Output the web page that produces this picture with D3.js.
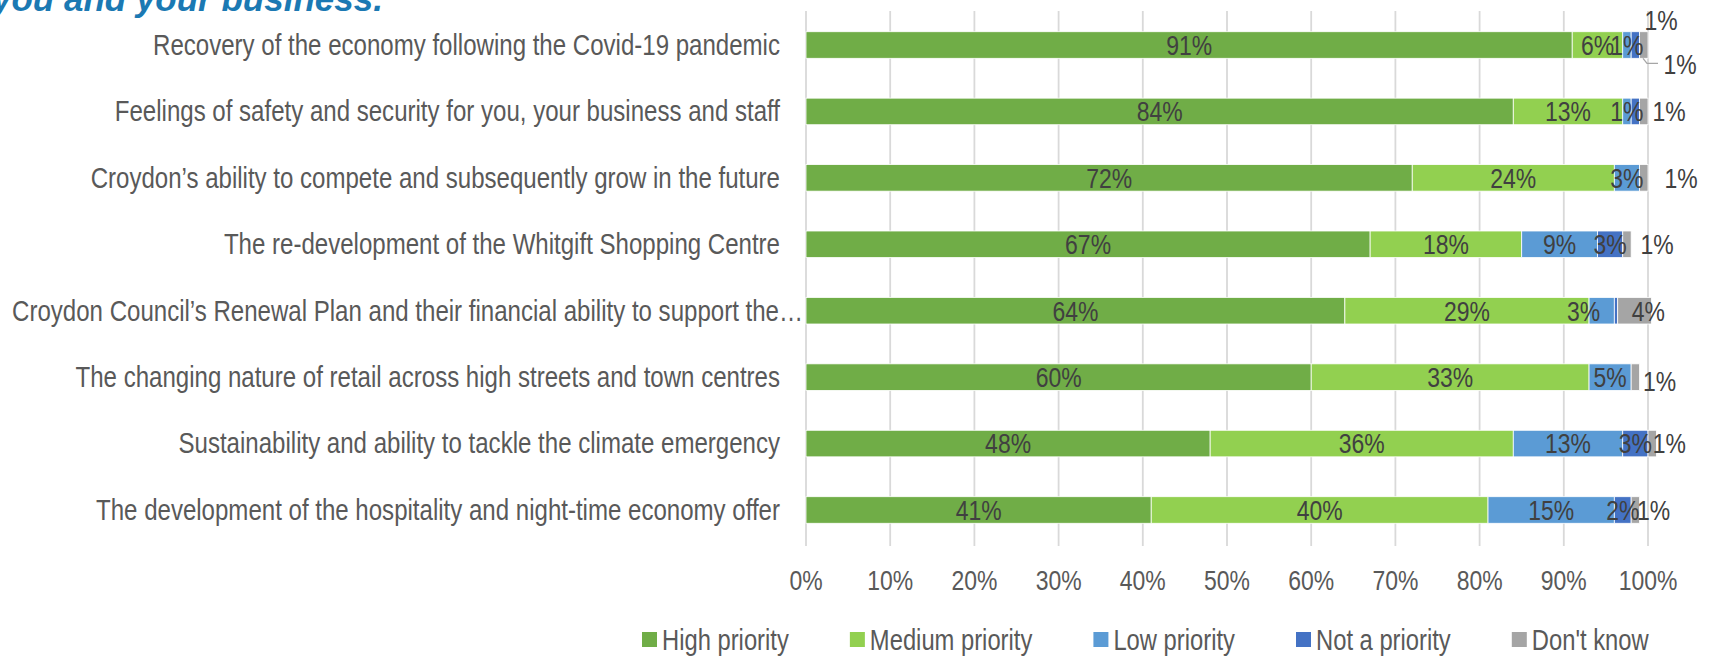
<!DOCTYPE html>
<html>
<head>
<meta charset="utf-8">
<script src="https://cdn.jsdelivr.net/npm/d3@7"></script>
<style>
  html, body { margin: 0; padding: 0; background: #fff; }
  svg { display: block; }
</style>
</head>
<body>
<svg id="chart" width="1713" height="657"></svg>
<script>
// Priority ratings for each issue, in percent of respondents
const categories = [
  "Recovery of the economy following the Covid-19 pandemic",
  "Feelings of safety and security for you, your business and staff",
  "Croydon\u2019s ability to compete and subsequently grow in the future",
  "The re-development of the Whitgift Shopping Centre",
  "Croydon Council\u2019s Renewal Plan and their financial ability to support the\u2026",
  "The changing nature of retail across high streets and town centres",
  "Sustainability and ability to tackle the climate emergency",
  "The development of the hospitality and night-time economy offer"
];
const seriesNames = ["High priority", "Medium priority", "Low priority", "Not a priority", "Don't know"];
const highPriority   = [91, 84, 72, 67, 64, 60, 48, 41];
const mediumPriority = [6, 13, 24, 18, 29, 33, 36, 40];
const lowPriority    = [1, 1, 3, 9, 3, 5, 13, 15];
const notAPriority   = [1, 1, 0, 3, 0.4, 0, 3, 2];
const dontKnow       = [1, 1, 1, 1, 4, 1, 1, 1];
const xTicks = [0, 10, 20, 30, 40, 50, 60, 70, 80, 90, 100];

const seriesValues = [highPriority, mediumPriority, lowPriority, notAPriority, dontKnow];
const colors = ["#70ad47", "#92d050", "#5b9bd5", "#4472c4", "#a5a5a5"];

const FONT = "'Liberation Sans', Arial, sans-serif";
const SQUEEZE = 0.82;   // condensed look for all chart text
const svg = d3.select("#chart");

// turn each text's x/y into a transform so it can be narrowed around its anchor
function narrow(sel, k = SQUEEZE) {
  sel.each(function () {
    const t = d3.select(this);
    const tx = +t.attr("x"), ty = +t.attr("y");
    t.attr("x", 0).attr("y", 0)
      .attr("transform", `translate(${tx},${ty}) scale(${k},1)`);
  });
}

const x = d3.scaleLinear().domain([0, 100]).range([806, 1648]);
const y = d3.scaleBand().domain(d3.range(categories.length))
  .range([11.8, 543.2]).paddingInner(0.6).paddingOuter(0.3);

// heading fragment at the top edge
svg.append("text")
  .attr("x", -8).attr("y", 11)
  .attr("font-family", FONT)
  .attr("font-size", 35).attr("font-weight", "bold").attr("font-style", "italic")
  .attr("fill", "#1b79b3")
  .text("you and your business.");

// vertical gridlines
svg.append("g").selectAll("line").data(xTicks).join("line")
  .attr("x1", d => x(d)).attr("x2", d => x(d))
  .attr("y1", 11).attr("y2", 546)
  .attr("stroke", "#d9d9d9").attr("stroke-width", 1.8);

// tick labels
svg.append("g").selectAll("text").data(xTicks).join("text")
  .attr("x", d => x(d)).attr("y", 580)
  .attr("text-anchor", "middle").attr("dominant-baseline", "central")
  .attr("font-family", FONT).attr("font-size", 28).attr("fill", "#595959")
  .text(d => d + "%")
  .call(narrow);

// category labels
svg.append("g").selectAll("text").data(categories).join("text")
  .attr("x", d => d.endsWith("\u2026") ? 803 : 780)
  .attr("y", (d, i) => y(i) + y.bandwidth() / 2)
  .attr("text-anchor", "end").attr("dominant-baseline", "central")
  .attr("font-family", FONT).attr("font-size", 29).attr("fill", "#595959")
  .text(d => d)
  .call(narrow, 0.83);

// stacked segments
const stacked = categories.map((c, i) => {
  let acc = 0;
  return seriesValues.map((vals, s) => {
    const seg = { row: i, s, v: vals[i], x0: acc, x1: acc + vals[i] };
    acc += vals[i];
    return seg;
  });
});
const segs = stacked.flat();

svg.append("g").selectAll("rect").data(segs.filter(d => d.v > 0)).join("rect")
  .attr("x", d => x(d.x0)).attr("width", d => x(d.x1) - x(d.x0))
  .attr("y", d => y(d.row)).attr("height", y.bandwidth())
  .attr("fill", d => colors[d.s])
  .attr("stroke", "#ffffff").attr("stroke-width", 0.8);

// value labels inside the segments (Don't know is labelled outside)
const hiddenInside = new Set(["1-3", "0-3"]);
const nudge = { "4-2": -18 };
const labelStyle = sel => sel
  .attr("font-family", FONT).attr("font-size", 28).attr("fill", "#404040")
  .attr("text-anchor", "middle").attr("dominant-baseline", "central");

const lab = svg.append("g");
lab.selectAll("text.in")
  .data(segs.filter(d => d.s < 4 && d.v >= 1 && !hiddenInside.has(d.row + "-" + d.s)))
  .join("text").attr("class", "in")
  .attr("x", d => (x(d.x0) + x(d.x1)) / 2 + (nudge[d.row + "-" + d.s] || 0))
  .attr("y", d => y(d.row) + y.bandwidth() / 2)
  .call(labelStyle)
  .text(d => Math.round(d.v) + "%")
  .call(narrow);

// Don't know labels beyond the bar end
const dkShift = [null, 21, 33, 26, -3, 20, 13, 14];
const dkDrop  = [0, 0, 0, 0, 0, 4, 0, 0];
lab.selectAll("text.dk")
  .data(segs.filter(d => d.s === 4 && d.row > 0))
  .join("text").attr("class", "dk")
  .attr("x", d => x(d.x1) + dkShift[d.row])
  .attr("y", d => y(d.row) + y.bandwidth() / 2 + dkDrop[d.row])
  .call(labelStyle)
  .text(d => Math.round(d.v) + "%")
  .call(narrow);

// first row: small values pulled out around the bar end
const r0 = stacked[0];
const end0 = x(r0[4].x1);
const top0 = y(0), bot0 = y(0) + y.bandwidth();
lab.append("text")
  .attr("x", end0 + 13).attr("y", top0 - 12)
  .call(labelStyle).text(Math.round(r0[3].v) + "%")
  .call(narrow);
lab.append("polyline")
  .attr("points", [[end0 - 5, bot0], [end0 - 1, bot0 + 5], [end0 + 10, bot0 + 5]].map(p => p.join(",")).join(" "))
  .attr("fill", "none").attr("stroke", "#a6a6a6").attr("stroke-width", 1.3);
lab.append("text")
  .attr("x", end0 + 32).attr("y", bot0 + 6)
  .call(labelStyle).text(Math.round(r0[4].v) + "%")
  .call(narrow);

// legend
const legend = svg.append("g").attr("transform", "translate(642,640)");
let lx = 0;
seriesNames.forEach((name, i) => {
  const g = legend.append("g").attr("transform", `translate(${lx},0)`);
  g.append("rect").attr("x", 0).attr("y", -8).attr("width", 15).attr("height", 15).attr("fill", colors[i]);
  const t = g.append("text").attr("x", 20).attr("y", 0)
    .attr("dominant-baseline", "central")
    .attr("font-family", FONT).attr("font-size", 29).attr("fill", "#595959")
    .text(name);
  const w = t.node().getComputedTextLength() * SQUEEZE;
  t.call(narrow);
  lx += 20 + w + 61;
});
</script>
</body>
</html>
